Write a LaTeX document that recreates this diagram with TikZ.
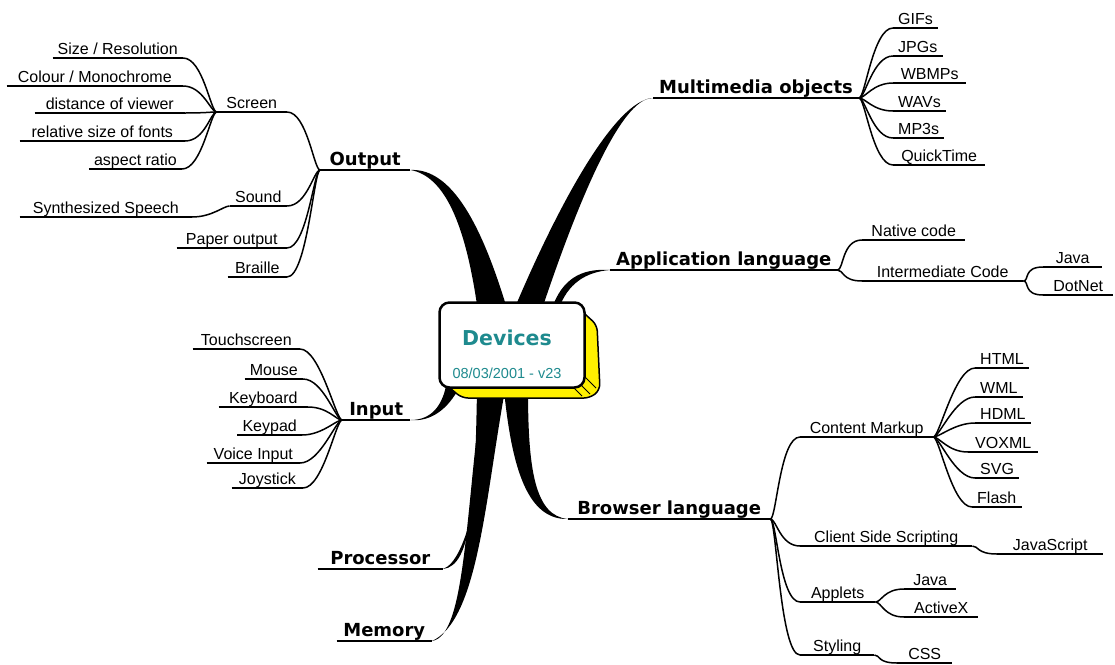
\documentclass[tikz,border=0pt]{standalone}
\usepackage{fontspec}
\setmainfont{Liberation Sans}
\newfontfamily\limbfamily{DejaVu Sans}
\definecolor{devteal}{RGB}{30,138,142}
\definecolor{devyellow}{RGB}{255,240,0}
\tikzset{
  twig/.style={font=\fontsize{16}{18}\selectfont, inner xsep=5pt, inner ysep=0.8pt, text depth=2.5pt},
  limb/.style={font=\limbfamily\bfseries\fontsize{18}{20}\selectfont, inner xsep=6pt, inner ysep=0.5pt, text depth=3.5pt},
  uline/.style={line width=1.5pt},
  rlink/.style={line width=1.5pt, to path={.. controls +(6,0) and +(-20,0) .. (\tikztotarget)}},
  llink/.style={line width=1.5pt, to path={.. controls +(20,0) and +(-6,0) .. (\tikztotarget)}},
  bough/.style={fill=black},
  devbox/.style={draw, line width=2.5pt, rounded corners=10pt, fill=white,
                 minimum width=145pt, minimum height=85pt},
}

\begin{document}
\begin{tikzpicture}[x=1pt,y=-1pt]
  \useasboundingbox (0,0) rectangle (1115,664);

  % --- Output ---
  \node[limb, anchor=south west, minimum width=90pt] (out) at (320,170) {Output};
  \node[twig, anchor=south east, minimum width=70pt] (screen) at (287,112) {Screen};
  \node[twig, anchor=south east] (sizeres) at (183,58) {Size / Resolution};
  \node[twig, anchor=south east, minimum width=176pt] (colour) at (183,86) {Colour / Monochrome};
  \node[twig, anchor=south east, minimum width=150pt] (dist) at (185,113) {distance of viewer};
  \node[twig, anchor=south east, minimum width=165pt] (relfont) at (185,141) {relative size of fonts};
  \node[twig, anchor=south east] (aspect) at (182,169) {aspect ratio};
  \node[twig, anchor=south east, minimum width=57pt] (sound) at (287,206) {Sound};
  \node[twig, anchor=south east, minimum width=172pt] (speech) at (192,217) {Synthesized Speech};
  \node[twig, anchor=south east, minimum width=110pt] (paper) at (287,248) {Paper output};
  \node[twig, anchor=south east, minimum width=59pt] (braille) at (287,277) {Braille};

  % --- Input ---
  \node[limb, anchor=south west, minimum width=68pt] (input) at (342,420) {Input};
  \node[twig, anchor=south east, minimum width=107pt] (touch) at (300,349) {Touchscreen};
  \node[twig, anchor=south east] (mouse) at (303,379) {Mouse};
  \node[twig, anchor=south east, minimum width=89pt] (keyboard) at (308,407) {Keyboard};
  \node[twig, anchor=south east] (keypad) at (302,435) {Keypad};
  \node[twig, anchor=south east, minimum width=93pt] (voice) at (300,463) {Voice Input};
  \node[twig, anchor=south east, minimum width=71pt] (joystick) at (303,488) {Joystick};

  % --- Processor / Memory ---
  \node[limb, anchor=south east, minimum width=125pt] (proc) at (443,569) {Processor};
  \node[limb, anchor=south east, minimum width=95pt] (mem) at (432,641) {Memory};

  % --- Multimedia objects ---
  \node[limb, anchor=south west] (multi) at (653,98) {Multimedia objects};
  \node[twig, anchor=south west] (gifs) at (893,28) {GIFs};
  \node[twig, anchor=south west] (jpgs) at (893,56) {JPGs};
  \node[twig, anchor=south west, minimum width=73pt] (wbmps) at (893,83) {WBMPs};
  \node[twig, anchor=south west] (wavs) at (893,111) {WAVs};
  \node[twig, anchor=south west] (mp3s) at (893,138) {MP3s};
  \node[twig, anchor=south west, minimum width=92pt] (qtime) at (893,165) {QuickTime};

  % --- Application language ---
  \node[limb, anchor=south west] (applang) at (610,270) {Application language};
  \node[twig, anchor=south west, minimum width=103pt] (native) at (862,240) {Native code};
  \node[twig, anchor=south west, minimum width=161pt] (interm) at (862,281) {Intermediate Code};
  \node[twig, anchor=south west, minimum width=59pt] (java1) at (1043,267) {Java};
  \node[twig, anchor=south west, minimum width=70pt] (dotnet) at (1043,295) {DotNet};

  % --- Browser language ---
  \node[limb, anchor=south west, minimum width=202pt] (browser) at (568,519) {Browser language};
  \node[twig, anchor=south west, minimum width=133pt] (cmarkup) at (800,437) {Content Markup};
  \node[twig, anchor=south west] (html) at (975,368) {HTML};
  \node[twig, anchor=south west] (wml) at (975,397) {WML};
  \node[twig, anchor=south west] (hdml) at (975,423) {HDML};
  \node[twig, anchor=south west, minimum width=70pt] (voxml) at (968,452) {VOXML};
  \node[twig, anchor=south west] (svg) at (975,478) {SVG};
  \node[twig, anchor=south west] (flash) at (972,507) {Flash};
  \node[twig, anchor=south west, minimum width=172pt] (client) at (800,546) {Client Side Scripting};
  \node[twig, anchor=south west, minimum width=106pt] (js) at (997,554) {JavaScript};
  \node[twig, anchor=south west, minimum width=75pt] (applets) at (800,602) {Applets};
  \node[twig, anchor=south west, minimum width=52pt] (java2) at (904,589) {Java};
  \node[twig, anchor=south west, minimum width=74pt] (activex) at (904,617) {ActiveX};
  \node[twig, anchor=south west, minimum width=74pt] (styling) at (800,655) {Styling};
  \node[twig, anchor=south west, minimum width=55pt] (css) at (897,663) {CSS};

  % underlines
  \foreach \n in {out,screen,sizeres,colour,dist,relfont,aspect,sound,speech,paper,braille,
                  input,touch,mouse,keyboard,keypad,voice,joystick,proc,mem,
                  multi,gifs,jpgs,wbmps,wavs,mp3s,qtime,applang,native,interm,java1,dotnet,
                  browser,cmarkup,html,wml,hdml,voxml,svg,flash,client,js,applets,java2,activex,styling,css}
    \draw[uline] (\n.south west) -- (\n.south east);

  % --- thin links ---
  \foreach \n in {sizeres,colour,dist,relfont,aspect} \draw[llink] (\n.south east) to (screen.south west);
  \draw[llink] (speech.south east) to (sound.south west);
  \foreach \n in {screen,sound,paper,braille} \draw[llink] (\n.south east) to (out.south west);
  \foreach \n in {touch,mouse,keyboard,keypad,voice,joystick} \draw[llink] (\n.south east) to (input.south west);
  \foreach \n in {gifs,jpgs,wbmps,wavs,mp3s,qtime} \draw[rlink] (multi.south east) to (\n.south west);
  \foreach \n in {native,interm} \draw[rlink] (applang.south east) to (\n.south west);
  \foreach \n in {java1,dotnet} \draw[rlink] (interm.south east) to (\n.south west);
  \foreach \n in {cmarkup,client,applets,styling} \draw[rlink] (browser.south east) to (\n.south west);
  \foreach \n in {html,wml,hdml,voxml,svg,flash} \draw[rlink] (cmarkup.south east) to (\n.south west);
  \draw[rlink] (client.south east) to (js.south west);
  \foreach \n in {java2,activex} \draw[rlink] (applets.south east) to (\n.south west);
  \draw[rlink] (styling.south east) to (css.south west);

  % --- thick boughs to the centre ---
  \coordinate (bout) at (493,312);
  \coordinate (bmm) at (527,312);
  \coordinate (bapp) at (556,308);
  \coordinate (binp) at (452,386);
  \coordinate (bbr) at (516,390);
  \coordinate (bpr) at (487,390);
  \coordinate (bmem) at (493,390);
  \fill[bough] (out.south east) .. controls (445,176) and (466,225) .. ([xshift=-15pt]bout)
    -- ([xshift=15pt]bout) .. controls (482,225) and (452,168) .. (out.south east);
  \fill[bough] (multi.south west) .. controls (615,100) and (558,205) .. ([xshift=-14pt]bmm)
    -- ([xshift=14pt]bmm) .. controls (575,210) and (620,97) .. (multi.south west);
  \fill[bough] (applang.south west) .. controls (580,268) and (562,280) .. ([xshift=-4pt]bapp)
    -- ([xshift=3pt]bapp) .. controls (568,284) and (585,272) .. (applang.south west);
  \fill[bough] (input.south east) .. controls (432,420) and (442,405) .. ([xshift=-6pt]binp)
    -- ([xshift=8pt]binp) .. controls (448,410) and (430,422) .. (input.south east);
  \fill[bough] (browser.south west) .. controls (528,520) and (512,470) .. ([xshift=-12pt]bbr)
    -- ([xshift=12pt]bbr) .. controls (528,470) and (535,516) .. (browser.south west);
  \fill[bough] (proc.south east) .. controls (472,566) and (475,500) .. ([xshift=-10pt]bpr)
    -- ([xshift=10pt]bpr) .. controls (480,480) and (468,560) .. (proc.south east);
  \fill[bough] (mem.south east) .. controls (465,636) and (465,520) .. ([xshift=-11pt]bmem)
    -- ([xshift=12pt]bmem) .. controls (485,500) and (478,620) .. (mem.south east);

  % --- centre box ---
  \filldraw[fill=devyellow, draw=black, line width=1.5pt, rounded corners=6pt]
    (575,305) -- (597,325) -- (600,390) -- (590,398) -- (462,398) -- (445,384) -- cycle;
  \draw[line width=1pt] (578,382) -- (590,394) (584,376) -- (596,388) (574,388) -- (582,396);
  \node[devbox] (dev) at (512,345) {};
  \node[font=\limbfamily\bfseries\fontsize{20.5}{22}\selectfont, text=devteal] (devname) at (507,338) {Devices};
  \node[font=\fontsize{14.5}{16}\selectfont, text=devteal] (devdate) at (507,373) {08/03/2001 - v23};
\end{tikzpicture}
\end{document}
